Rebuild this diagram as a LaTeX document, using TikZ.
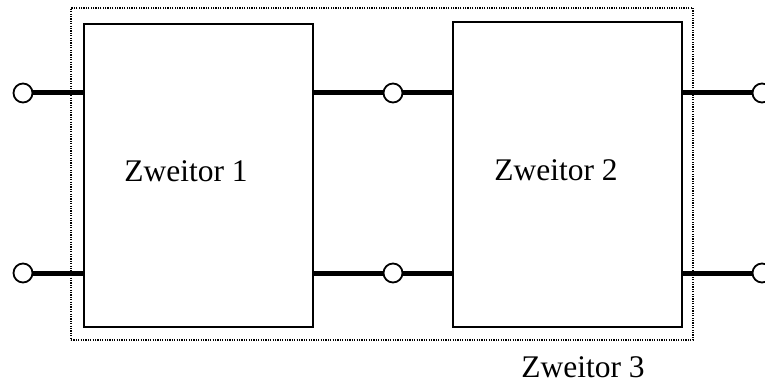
\documentclass[tikz,border=0pt]{standalone}
\usepackage{fontspec}
\setmainfont{Liberation Serif}
\begin{document}
\begin{tikzpicture}[x=1pt,y=-1pt,
  twoport/.style={draw,line width=2pt,minimum width=#1,inner sep=0pt},
  term/.style={circle,draw,line width=1.8pt,fill=white,minimum size=19pt,inner sep=0pt},
  wire/.style={line width=5pt},
  lbl/.style={font=\fontsize{31.5}{33}\selectfont,inner sep=0pt}]
\useasboundingbox (0,0) rectangle (765,385);
% outer dotted frame
\node[draw,dash pattern=on 1.2pt off 1.2pt,line width=1.6pt,minimum width=622pt,minimum height=332pt,inner sep=0pt] (frame) at (382,174) {};
% two-ports
\node[twoport=229pt,minimum height=303pt] (b1) at (198.5,175.5) {};
\node[twoport=229pt,minimum height=304pt] (b2) at (567.5,174.5) {};
% terminals
\node[term] (l1) at (23,93) {};
\node[term] (l2) at (23,273) {};
\node[term] (m1) at (393,93) {};
\node[term] (m2) at (393,273) {};
\node[term] (r1) at (762,93) {};
\node[term] (r2) at (762,273) {};
% wires
\coordinate (b1w1) at (b1.west |- l1);
\coordinate (b1w2) at (b1.west |- l2);
\coordinate (b1e1) at (b1.east |- m1);
\coordinate (b1e2) at (b1.east |- m2);
\coordinate (b2w1) at (b2.west |- m1);
\coordinate (b2w2) at (b2.west |- m2);
\coordinate (b2e1) at (b2.east |- r1);
\coordinate (b2e2) at (b2.east |- r2);
\draw[wire] (l1.east) -- (b1w1);
\draw[wire] (l2.east) -- (b1w2);
\draw[wire] (b1e1) -- (m1.west);
\draw[wire] (m1.east) -- (b2w1);
\draw[wire] (b1e2) -- (m2.west);
\draw[wire] (m2.east) -- (b2w2);
\draw[wire] (b2e1) -- (r1.west);
\draw[wire] (b2e2) -- (r2.west);
% labels
\node[lbl] (t1) at (186,171) {Zweitor 1};
\node[lbl] (t2) at (556,170.5) {Zweitor 2};
\node[lbl] (t3) at (583,367) {Zweitor 3};
\end{tikzpicture}
\end{document}
